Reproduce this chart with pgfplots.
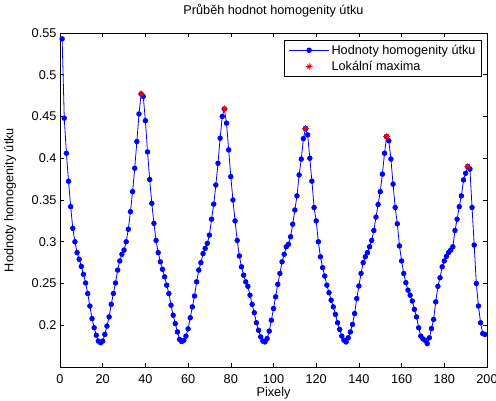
\documentclass[border=0pt]{standalone}
\usepackage{fontspec}
\setmainfont{Liberation Sans}
\usepackage{pgfplots}
\usepackage{pgfplotstable}
\pgfplotsset{compat=1.18}

\pgfdeclareplotmark{matstar}{%
  \pgfpathmoveto{\pgfqpoint{-\pgfplotmarksize}{0pt}}\pgfpathlineto{\pgfqpoint{\pgfplotmarksize}{0pt}}%
  \pgfpathmoveto{\pgfqpoint{0pt}{-\pgfplotmarksize}}\pgfpathlineto{\pgfqpoint{0pt}{\pgfplotmarksize}}%
  \pgfpathmoveto{\pgfqpoint{-.6\pgfplotmarksize}{-.6\pgfplotmarksize}}\pgfpathlineto{\pgfqpoint{.6\pgfplotmarksize}{.6\pgfplotmarksize}}%
  \pgfpathmoveto{\pgfqpoint{-.6\pgfplotmarksize}{.6\pgfplotmarksize}}\pgfpathlineto{\pgfqpoint{.6\pgfplotmarksize}{-.6\pgfplotmarksize}}%
  \pgfusepathqstroke}

\pgfplotstableread{
x y
1 0.543
2 0.448
3 0.406
4 0.3725
5 0.342
6 0.316
7 0.300
8 0.287
9 0.279
10 0.2705
11 0.261
12 0.2506
13 0.238
14 0.223
15 0.208
16 0.197
17 0.188
18 0.181
19 0.179
20 0.181
21 0.189
22 0.199
23 0.210
24 0.225
25 0.238
26 0.2506
27 0.266
28 0.277
29 0.285
30 0.290
31 0.300
32 0.315
33 0.336
34 0.360
35 0.388
36 0.420
37 0.453
38 0.477
39 0.474
40 0.445
41 0.4076
42 0.3745
43 0.346
44 0.322
45 0.3016
46 0.287
47 0.276
48 0.267
49 0.258
50 0.248
51 0.238
52 0.224
53 0.212
54 0.202
55 0.192
56 0.183
57 0.1805
58 0.182
59 0.187
60 0.1956
61 0.209
62 0.222
63 0.235
64 0.252
65 0.266
66 0.275
67 0.2857
68 0.292
69 0.298
70 0.308
71 0.327
72 0.345
73 0.368
74 0.394
75 0.424
76 0.450
77 0.459
78 0.442
79 0.410
80 0.378
81 0.350
82 0.325
83 0.3016
84 0.283
85 0.270
86 0.260
87 0.252
88 0.2466
89 0.236
90 0.225
91 0.215
92 0.203
93 0.194
94 0.186
95 0.181
96 0.180
97 0.184
98 0.193
99 0.206
100 0.220
101 0.234
102 0.249
103 0.262
104 0.276
105 0.285
106 0.294
107 0.297
108 0.306
109 0.321
110 0.338
111 0.355
112 0.380
113 0.399
114 0.4235
115 0.4355
116 0.428
117 0.400
118 0.3725
119 0.341
120 0.325
121 0.300
122 0.282
123 0.269
124 0.259
125 0.248
126 0.239
127 0.230
128 0.222
129 0.213
130 0.203
131 0.195
132 0.187
133 0.182
134 0.180
135 0.185
136 0.192
137 0.201
138 0.214
139 0.232
140 0.247
141 0.262
142 0.275
143 0.282
144 0.287
145 0.294
146 0.3016
147 0.3135
148 0.3295
149 0.3446
150 0.360
151 0.381
152 0.406
153 0.426
154 0.421
155 0.399
156 0.369
157 0.341
158 0.3215
159 0.295
160 0.277
161 0.262
162 0.251
163 0.242
164 0.236
165 0.229
166 0.219
167 0.210
168 0.197
169 0.187
170 0.1837
171 0.182
172 0.178
173 0.185
174 0.196
175 0.207
176 0.228
177 0.2466
178 0.257
179 0.270
180 0.277
181 0.2825
182 0.287
183 0.290
184 0.294
185 0.3135
186 0.327
187 0.342
188 0.355
189 0.374
190 0.382
191 0.390
192 0.387
193 0.341
194 0.296
195 0.250
196 0.223
197 0.203
198 0.190
199 0.189
}\datatable

\pgfplotstableread{
x y
38 0.477
77 0.459
115 0.4355
153 0.426
191 0.390
}\maxtable

\begin{document}
\begin{tikzpicture}
\path[use as bounding box] (-60pt,-34pt) rectangle (436pt,367pt);
\begin{axis}[
  scale only axis,
  width=427pt, height=334pt,
  xmin=0, xmax=200, ymin=0.15, ymax=0.55,
  xtick={0,20,...,200},
  ytick={0.2,0.25,0.3,0.35,0.4,0.45,0.5,0.55},
  tick align=inside,
  major tick length=4pt,
  tick style={black, line width=0.5pt},
  axis line style={black, line width=0.8pt},
  /pgf/number format/assume math mode=true,
  /pgf/number format/fixed,
  /pgf/number format/precision=2,
  scaled y ticks=false,
  tick label style={font=\fontsize{12.7}{15}\selectfont},
  xticklabel style={yshift=-4pt},
  label style={font=\fontsize{12.7}{15}\selectfont},
  title style={font=\fontsize{12.7}{15}\selectfont, at={(axis description cs:0.5,1.048)}, anchor=center},
  title={Průběh hodnot homogenity útku},
  xlabel={Pixely},
  ylabel={Hodnoty homogenity útku},
  xlabel style={at={(axis description cs:0.5,-0.078)}, anchor=center},
  ylabel style={at={(axis description cs:-0.117,0.5)}, anchor=center},
  legend style={at={(0.988,0.979)}, anchor=north east, draw=black, line width=0.6pt,
    font=\fontsize{12.7}{15}\selectfont, inner xsep=4pt, inner ysep=2.5pt, row sep=1.5pt},
  legend cell align=left,
  legend image code/.code={\draw[mark repeat=2,mark phase=2,#1] plot coordinates {(0pt,0pt) (20pt,0pt) (40pt,0pt)};},
]
\addplot[blue, line width=0.8pt, mark=*, mark size=2.3pt, mark options={fill=blue, draw=blue}] table[x=x,y=y] {\datatable};
\addlegendentry{Hodnoty homogenity útku}
\addplot[red, only marks, mark=matstar, mark size=3.5pt, mark options={line width=0.8pt}] table[x=x,y=y] {\maxtable};
\addlegendentry{Lokální maxima}
\end{axis}
\end{tikzpicture}
\end{document}
